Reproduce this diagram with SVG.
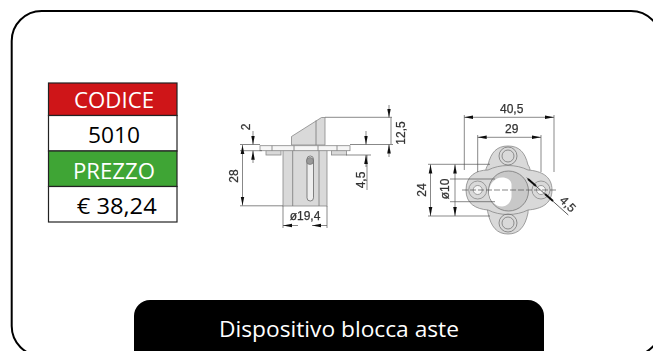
<svg xmlns="http://www.w3.org/2000/svg" width="653" height="351" viewBox="0 0 653 351">
<style>
.cal{font-family:"Open Sans","Noto Sans","Liberation Sans",sans-serif}
.cell{font-size:21px;text-anchor:middle}
.dim{font-family:"Liberation Sans",sans-serif;font-size:12px;fill:#333;text-anchor:middle;stroke:#333;stroke-width:.25}
.t{stroke:#222;stroke-width:1.2}
.l{stroke:#777;stroke-width:.8;fill:none}
.d{stroke:#555;stroke-width:.7;fill:none}
.b{fill:#d9d9d9;stroke:#888;stroke-width:.8}
.w{fill:#f6f6f6;stroke:#888;stroke-width:.8}
</style>
<defs>
<filter id="soft" x="-5%" y="-5%" width="110%" height="110%"><feGaussianBlur stdDeviation="0.7"/></filter>
<marker id="a" markerWidth="10" markerHeight="6" refX="9" refY="3" orient="auto-start-reverse" markerUnits="userSpaceOnUse"><path d="M0 1.200L9 3L0 4.800Z" fill="#111"/></marker>
</defs>
<rect width="653" height="351" fill="#fff"/>
<rect id="frame" x="11.700" y="11" width="649.300" height="345" rx="30" ry="30" fill="#fff" stroke="#000" stroke-width="2"/>
<g id="table">
<rect x="48.500" y="83" width="128.500" height="32.500" fill="#cf1518" class="t"/>
<rect x="48.500" y="115.500" width="128.500" height="35.500" fill="#fff" class="t"/>
<rect x="48.500" y="151" width="128.500" height="35.500" fill="#3fa535" class="t"/>
<rect x="48.500" y="186.500" width="128.500" height="35.500" fill="#fff" class="t"/>
<text x="114" y="108.300" class="cal cell" fill="#fff" textLength="80" lengthAdjust="spacingAndGlyphs">CODICE</text>
<text x="114" y="143.300" class="cal cell" fill="#000" textLength="52" lengthAdjust="spacingAndGlyphs">5010</text>
<text x="114" y="179" class="cal cell" fill="#fff" textLength="82" lengthAdjust="spacingAndGlyphs">PREZZO</text>
<text x="116.700" y="214.300" class="cal cell" fill="#000" textLength="80" lengthAdjust="spacingAndGlyphs">€ 38,24</text>
</g>
<g id="drawing-side" filter="url(#soft)">
<path class="b" d="M291.500 145V136.500L321.500 117.500H325V145Z"/>
<path class="l" d="M316 120.500V145"/>
<rect class="b" x="283" y="150" width="44" height="56"/>
<path class="l" d="M292.700 150V206M319 150V206"/>
<rect class="b" x="266" y="150" width="15" height="5"/>
<rect class="b" x="331.500" y="150" width="15" height="5"/>
<rect class="w" x="260" y="145.700" width="90" height="5"/>
<path class="l" d="M272 145.700V150.700M337 145.700V150.700M294 145.700V150.700M318 145.700V150.700"/>
<rect x="307" y="156" width="6.500" height="45" rx="3.200" fill="#eee" stroke="#666" stroke-width=".8"/>
<circle cx="310" cy="161" r="3.500" fill="#999" stroke="#666" stroke-width=".6"/>
<path class="d" d="M325 117.300H392M350 144.500H393M346 155H371M240 144.500H260M240 150.700H262M240 205.800H283M283 206V228M327 206V228M367 155V190M391 117.300V144"/>
<path class="d" marker-start="url(#a)" d="M253 144.500V131"/>
<path class="d" marker-start="url(#a)" d="M253 150.700V163"/>
<path class="d" marker-start="url(#a)" marker-end="url(#a)" d="M242.500 145V205.500"/>
<path class="d" marker-start="url(#a)" d="M389 117.500V105"/>
<path class="d" marker-start="url(#a)" d="M389 144.500V157"/>
<path class="d" marker-start="url(#a)" d="M366 144.500V131"/>
<path class="d" marker-start="url(#a)" d="M366 155V167"/>
<path class="d" marker-end="url(#a)" d="M283 225.500H298M327 225.500H312" marker-start="url(#a)"/>
<text class="dim" transform="translate(249.500 127) rotate(-90)">2</text>
<text class="dim" transform="translate(237.500 176) rotate(-90)">28</text>
<text class="dim" transform="translate(405 133) rotate(-90)">12,5</text>
<text class="dim" transform="translate(364.500 180) rotate(-90)">4,5</text>
<text class="dim" x="305" y="220">ø19,4</text>
</g>
<g id="drawing-front" filter="url(#soft)">
<path class="b" d="M488 165C491 152 497 146 508 146C519 146 525 152 528 165C534 171 528 205 528 213C525 227 519 234 508 234C497 234 491 227 488 213C486 205 482 171 488 165Z"/>
<path class="b" d="M488 170C476 170 466 176 466 190C466 204 476 209 488 210C500 216 516 216 528 210C541 209 552 204 552 190C552 176 541 171 528 170C516 164 500 164 488 170Z"/>
<circle class="l" cx="508" cy="156" r="6"/><circle class="l" cx="508" cy="156" r="9"/>
<circle class="l" cx="508" cy="223" r="6"/><circle class="l" cx="508" cy="223" r="9"/>
<circle cx="477.700" cy="190" r="9" class="b"/><circle cx="477.700" cy="190" r="4.500" class="w"/>
<circle cx="541" cy="190" r="9" class="b"/><circle cx="541" cy="190" r="4.500" class="w"/>
<circle cx="508.500" cy="191" r="20" fill="#c8c8c8" stroke="#777" stroke-width=".8"/>
<path d="M502 177.500A13 14.500 0 0 0 502 206.500C507 206.500 511 202 511.500 197V184C511 180 507 177.500 502 177.500Z" fill="#fff"/>
<path class="d" stroke-dasharray="6 2" d="M462 190H557"/>
<path class="d" d="M464.300 115V170M554 115V172M477.700 135V172M541 135V172M428 164.300H490M428 216H490M450 179H495M450 201.700H495"/>
<path class="d" marker-start="url(#a)" marker-end="url(#a)" d="M464.300 117.300H554"/>
<path class="d" marker-start="url(#a)" marker-end="url(#a)" d="M477.700 137.300H541"/>
<path class="d" marker-start="url(#a)" marker-end="url(#a)" d="M430.500 164.500V216"/>
<path class="d" marker-start="url(#a)" marker-end="url(#a)" d="M455 164.500V216"/>
<path stroke="#333" stroke-width=".8" fill="none" d="M526.700 177.700L568.300 215"/>
<path stroke="#111" stroke-width="2" fill="none" d="M528 179L536 186M545 194L553 201"/>
<text class="dim" x="511.700" y="112.500">40,5</text>
<text class="dim" x="511.700" y="133">29</text>
<text class="dim" transform="translate(425.500 190) rotate(-90)">24</text>
<text class="dim" transform="translate(448.500 189) rotate(-90)">ø10</text>
<text class="dim" transform="translate(565 207) rotate(45)">4,5</text>
</g>
<g id="caption">
<rect x="134" y="300" width="410" height="80" rx="16" ry="16" fill="#000"/>
<text x="339" y="337" class="cal" font-size="22" fill="#fff" text-anchor="middle" textLength="240" lengthAdjust="spacingAndGlyphs">Dispositivo blocca aste</text>
</g>
</svg>
